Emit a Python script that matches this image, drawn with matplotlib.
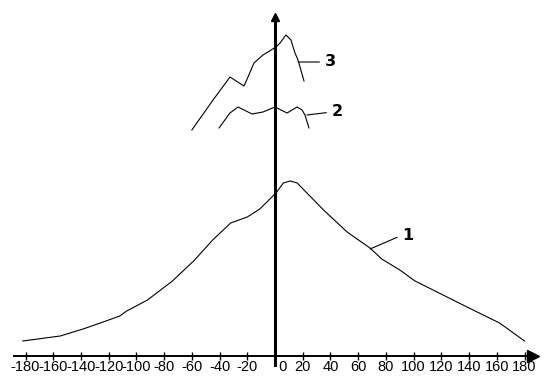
import matplotlib
matplotlib.use("Agg")
import matplotlib.pyplot as plt

# angle ticks along the horizontal axis
tick_vals = [-180, -160, -140, -120, -100, -80, -60, -40, -20, 0,
             20, 40, 60, 80, 100, 120, 140, 160, 180]
tick_labels = ['-180', '-160', '-140', '-120', '-100', '-80', '-60', '-40', '-20', ' 0',
               '20', '40', '60', '80', '100', '120', '140', '160', '180']

# curve 1 (bottom, wide)
c1_x = [-182, -155, -138.5, -126, -112, -107, -92, -74, -58, -45, -32, -20, -11,
        0.7, 6, 11, 16, 23, 35, 52, 68.5, 77, 90, 101, 114, 138.5, 162, 180]
c1_y = [15, 20, 27, 33, 40, 45, 56, 75, 96, 116, 133, 139, 147,
        163, 173, 175, 173, 163, 146, 124, 108, 97, 86, 75, 66, 49, 33, 15]

# curve 2 (middle)
c2_x = [-40.4, -32.5, -26.7, -16.6, -8.7, 0, 8.7, 15.9, 19.5, 21.6, 24.5]
c2_y = [228, 243, 249, 242, 244, 249, 243, 249, 246, 241, 228]

# curve 3 (top)
c3_x = [-60, -44.7, -32.5, -22.4, -19.5, -15.2, -8.7, 0.7, 3.6, 7.9, 11.5, 14.4, 16.6, 20.9]
c3_y = [226, 256, 279, 270, 279, 293, 301, 309, 313, 321, 316, 303, 296, 275]

fig = plt.figure(figsize=(5.47, 3.81), dpi=100, facecolor='white')
ax = fig.add_axes([0, 0, 1, 1])
ax.set_xlim(-198.4, 196.2)
ax.set_ylim(-25, 356)

# axes drawn through the origin
ax.spines['top'].set_visible(False)
ax.spines['right'].set_visible(False)
ax.spines['bottom'].set_position(('data', 0))
ax.spines['left'].set_position(('data', 0))
ax.spines['bottom'].set_bounds(-188, 186)
ax.spines['left'].set_bounds(-9, 340)
ax.spines['bottom'].set_linewidth(1.4)
ax.spines['left'].set_linewidth(2.2)

# arrow heads
ax.plot(186, 0, marker='>', color='black', markersize=8, clip_on=False)
ax.plot(0, 339, marker='^', color='black', markersize=6, clip_on=False)

ax.set_xticks(tick_vals)
ax.set_xticklabels(tick_labels, family='Liberation Sans', fontsize=10.5)
ax.tick_params(axis='x', direction='inout', length=6, width=1, pad=0)
ax.set_yticks([])
zero_tick = ax.xaxis.get_major_ticks()[tick_vals.index(0)]
zero_tick.tick1line.set_visible(False)
zero_tick.label1.set_horizontalalignment('left')

ax.plot(c1_x, c1_y, color='black', lw=0.8)
ax.plot(c2_x, c2_y, color='black', lw=0.8)
ax.plot(c3_x, c3_y, color='black', lw=0.8)

lab = dict(family='DejaVu Sans', fontsize=11.5, fontweight='bold', ha='left', va='center')
leader = dict(arrowstyle='-', color='black', lw=0.8, relpos=(0, 0.5), shrinkA=2, shrinkB=0)
ax.annotate('3', xy=(16.6, 294), xytext=(36, 294), arrowprops=leader, **lab)
ax.annotate('2', xy=(23, 241), xytext=(41, 244), arrowprops=leader, **lab)
ax.annotate('1', xy=(68.5, 107), xytext=(92, 121), arrowprops=leader, **lab)

plt.savefig('out.png', dpi=100, facecolor='white')
